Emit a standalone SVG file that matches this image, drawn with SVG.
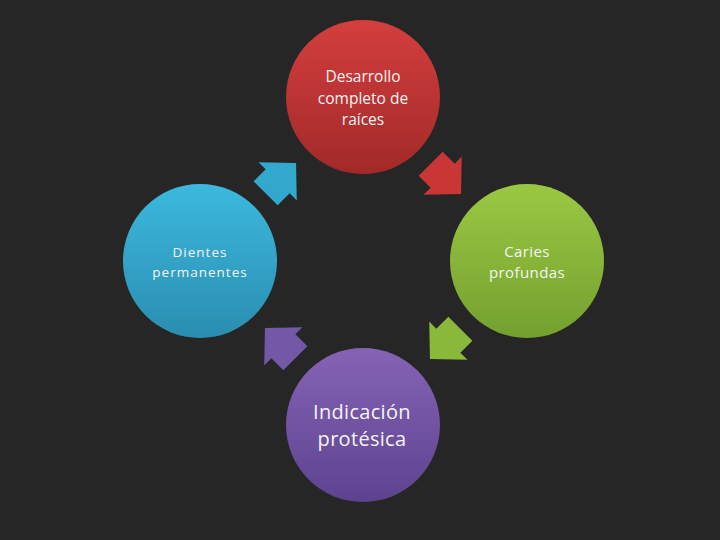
<svg xmlns="http://www.w3.org/2000/svg" width="720" height="540" viewBox="0 0 720 540">
<defs>
<style>
text{font-family:"Open Sans","Liberation Sans",sans-serif;fill:#f4f4f4;text-anchor:middle}
.s{font-size:15.5px}
.m{font-size:15px;letter-spacing:0.4px}
.d{font-size:13.5px;letter-spacing:1px}
.b{font-size:20px;letter-spacing:0.3px}
</style>
<linearGradient id="gr" x1="0" y1="0" x2="0" y2="1"><stop offset="0" stop-color="#d43e3e"/><stop offset="1" stop-color="#a22929"/></linearGradient>
<linearGradient id="gg" x1="0" y1="0" x2="0" y2="1"><stop offset="0" stop-color="#9bc843"/><stop offset="1" stop-color="#74a02f"/></linearGradient>
<linearGradient id="gb" x1="0" y1="0" x2="0" y2="1"><stop offset="0" stop-color="#3cb9de"/><stop offset="1" stop-color="#2a8db0"/></linearGradient>
<linearGradient id="gp" x1="0" y1="0" x2="0" y2="1"><stop offset="0" stop-color="#8563b5"/><stop offset="1" stop-color="#5d438f"/></linearGradient>
<path id="arr" d="M -21,-17 L -4,-17 L -4,-27 L 22,0 L -4,27 L -4,17 L -21,17 Z"/>
</defs>
<rect width="720" height="540" fill="#262626"/>
<g id="connectors">
<use href="#arr" fill="#c93636" transform="translate(445.5,178.5) rotate(45)"/>
<use href="#arr" fill="#8ab83a" transform="translate(445.5,343.5) rotate(135)"/>
<use href="#arr" fill="#7358a8" transform="translate(280.5,343.5) rotate(225)"/>
<use href="#arr" fill="#33a8cd" transform="translate(280.5,178.5) rotate(-45)"/>
</g>
<g id="n1">
<circle cx="363" cy="97" r="77" fill="url(#gr)"/>
<text class="s" x="363" y="82">Desarrollo</text>
<text class="s" x="363" y="104">completo de</text>
<text class="s" x="363" y="125">raíces</text>
</g>
<g id="n2">
<circle cx="527" cy="261" r="77" fill="url(#gg)"/>
<text class="m" x="527" y="257">Caries</text>
<text class="m" x="527" y="278">profundas</text>
</g>
<g id="n3">
<circle cx="363" cy="425" r="77" fill="url(#gp)"/>
<text class="b" x="362" y="419">Indicación</text>
<text class="b" x="362" y="446">protésica</text>
</g>
<g id="n4">
<circle cx="200" cy="261" r="77" fill="url(#gb)"/>
<text class="d" x="200" y="257">Dientes</text>
<text class="d" x="200" y="277">permanentes</text>
</g>
</svg>
